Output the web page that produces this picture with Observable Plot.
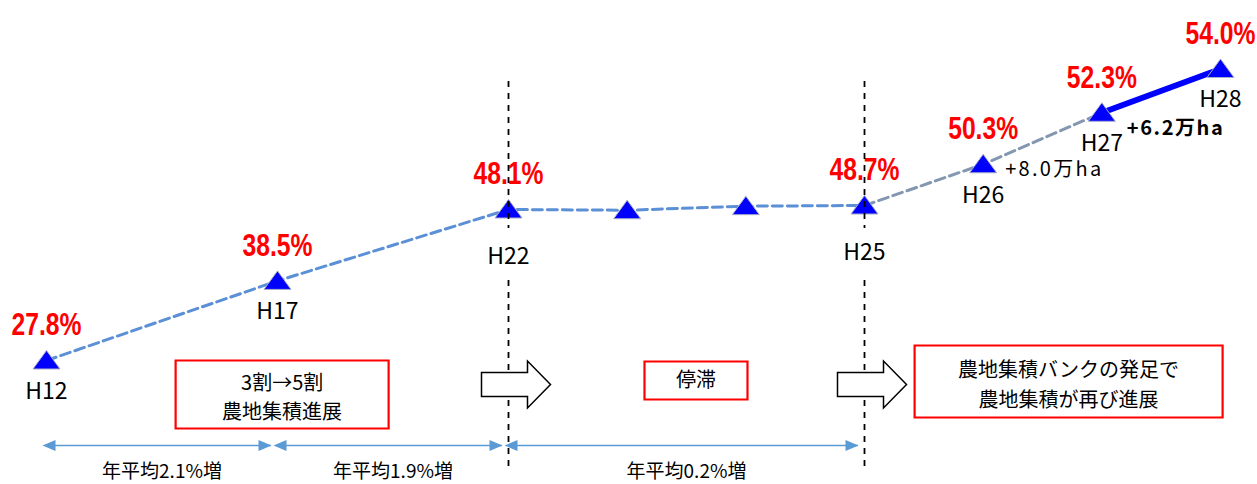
<!DOCTYPE html>
<html>
<head>
<meta charset="utf-8">
<script src="https://cdn.jsdelivr.net/npm/d3@7"></script>
<script src="https://cdn.jsdelivr.net/npm/@observablehq/plot@0.6"></script>
<style>
  html, body { margin: 0; padding: 0; background: #ffffff; }
  #chart svg { display: block; }
</style>
</head>
<body>
<div id="chart"></div>
<script>
// ---- data ----
const years      = [12, 17, 22, 23, 24, 25, 26, 27, 28];
const yearLabels = ["H12", "H17", "H22", "H23", "H24", "H25", "H26", "H27", "H28"];
const rates      = [27.8, 38.5, 48.1, 48.0, 48.6, 48.7, 50.3, 52.3, 54.0];
const labeledYears = [12, 17, 22, 25, 26, 27, 28];
const phaseYears   = [22, 25];
const increaseYears  = [26, 27];
const increaseLabels = ["+8.0万ha", "+6.2万ha"];
const periodStarts = [12, 17, 22];
const periodEnds   = [17, 22, 25];
const periodLabels = ["年平均2.1%増", "年平均1.9%増", "年平均0.2%増"];
const phaseTexts = ["3割→5割\n農地集積進展", "停滞", "農地集積バンクの発足で\n農地集積が再び進展"];
const phaseCenters = [17.1, 23.58, 26.72];
const segmentNames = ["dashed", "gray", "solid"];
const segmentFrom  = [12, 25, 27];
const segmentTo    = [25, 27, 28];

// ---- tables ----
const points = years.map((y, i) => ({year: y, label: yearLabels[i], rate: rates[i]}));
const labeled = points.filter(p => labeledYears.includes(p.year));
const segRows = segmentNames.flatMap((s, k) =>
  points.filter(p => p.year >= segmentFrom[k] && p.year <= segmentTo[k]).map(p => ({...p, seg: s})));
const increases = increaseYears.map((y, i) => ({...points.find(p => p.year === y), text: increaseLabels[i]}));
const periods = periodLabels.map((t, i) => ({x1: periodStarts[i], x2: periodEnds[i], mid: (periodStarts[i] + periodEnds[i]) / 2, text: t}));
const phases = phaseTexts.map((t, i) => ({x: phaseCenters[i], text: t}));

// ---- custom symbols ----
const flatTriangle = {draw(c) { c.moveTo(0, -10); c.lineTo(13.5, 8.5); c.lineTo(-13.5, 8.5); c.closePath(); }};
const blockArrow = {draw(c) {
  c.moveTo(-27, -12); c.lineTo(19, -12); c.lineTo(19, -23.5); c.lineTo(42, 0);
  c.lineTo(19, 23.5); c.lineTo(19, 12); c.lineTo(-27, 12); c.closePath();
}};
const headRight = {draw(c) { c.moveTo(0, 0); c.lineTo(-13, -5.5); c.lineTo(-13, 5.5); c.closePath(); }};
const headLeft  = {draw(c) { c.moveTo(0, 0); c.lineTo(13, -5.5); c.lineTo(13, 5.5); c.closePath(); }};
const boxSymbol = (w, h) => ({draw(c) { c.rect(-w / 2, -h / 2, w, h); }});

const JP = "'Noto Sans CJK JP', 'Noto Sans', sans-serif";
const LAT = "'Liberation Sans', Arial, sans-serif";

const chart = Plot.plot({
  width: 1257,
  height: 484,
  margin: 0,
  style: {background: "#ffffff", overflow: "visible"},
  x: {type: "linear", domain: [12, 22, 28], range: [46, 508, 1220], axis: null},
  y: {type: "linear", domain: [20, 48.1, 48.7, 56], range: [418, 209, 205, 17], axis: null},
  marks: [
    // series lines
    Plot.line(segRows.filter(d => d.seg === "dashed"), {x: "year", y: "rate", stroke: "#5b8fd6", strokeWidth: 3, strokeDasharray: "10,5"}),
    Plot.line(segRows.filter(d => d.seg === "gray"), {x: "year", y: "rate", stroke: "#8497b0", strokeWidth: 3, strokeDasharray: "10,5"}),
    Plot.line(segRows.filter(d => d.seg === "solid"), {x: "year", y: "rate", stroke: "#0000ff", strokeWidth: 6}),
    // markers
    Plot.dot(points, {x: "year", y: "rate", symbol: flatTriangle, fill: "#0000ff", stroke: "#a9adc8", strokeWidth: 1}),
    // percentage labels
    Plot.text(labeled, {x: "year", y: "rate", text: d => d.rate.toFixed(1) + "%", dy: -35, fill: "#ff0000", fontSize: 31, fontWeight: "bold", fontFamily: LAT, ariaDescription: "pct-labels"}),
    // phase separator lines (split around the year label)
    Plot.ruleX(phaseYears, {x: d => d, stroke: "#000", strokeWidth: 1.8, strokeDasharray: "6,6", insetTop: 81, insetBottom: 256}),
    Plot.ruleX(phaseYears, {x: d => d, stroke: "#000", strokeWidth: 1.8, strokeDasharray: "6,6", insetTop: 280, insetBottom: 14}),
    // year labels
    Plot.text(labeled.filter(d => !phaseYears.includes(d.year)), {x: "year", y: "rate", text: "label", dy: 31, fill: "#000", fontSize: 23, fontFamily: JP}),
    Plot.text(labeled.filter(d => phaseYears.includes(d.year)), {x: "year", y: "rate", text: "label", dy: 47, fill: "#000", fontSize: 23, fontFamily: JP}),
    // increase annotations
    Plot.text(increases.slice(0, 1), {x: "year", y: "rate", text: "text", textAnchor: "start", dx: 22, dy: 5, fill: "#000", fontSize: 20, fontFamily: JP, ariaDescription: "inc-labels"}),
    Plot.text(increases.slice(1), {x: "year", y: "rate", text: "text", textAnchor: "start", dx: 25, dy: 16, fill: "#000", fontSize: 20, fontWeight: "bold", fontFamily: JP, ariaDescription: "inc-labels"}),
    // block arrows
    Plot.dot(phaseYears, {x: d => d, frameAnchor: "top", dy: 384, symbol: blockArrow, fill: "#fff", stroke: "#000", strokeWidth: 1.5}),
    // phase boxes
    Plot.dot(phases.slice(0, 1), {x: "x", frameAnchor: "top", dy: 394, symbol: boxSymbol(213, 68), fill: "#fff", stroke: "#ff0000", strokeWidth: 2.2}),
    Plot.dot(phases.slice(1, 2), {x: "x", frameAnchor: "top", dy: 380, symbol: boxSymbol(103, 38), fill: "#fff", stroke: "#ff0000", strokeWidth: 2.2}),
    Plot.dot(phases.slice(2, 3), {x: "x", frameAnchor: "top", dy: 381, symbol: boxSymbol(308, 72), fill: "#fff", stroke: "#ff0000", strokeWidth: 2.2}),
    Plot.text(phases.slice(0, 1), {x: "x", frameAnchor: "top", lineAnchor: "middle", dy: 395, text: "text", lineHeight: 1.45, fontSize: 20, fill: "#000", fontFamily: JP}),
    Plot.text(phases.slice(1, 2), {x: "x", frameAnchor: "top", lineAnchor: "middle", dy: 380, text: "text", fontSize: 20, fill: "#000", fontFamily: JP}),
    Plot.text(phases.slice(2, 3), {x: "x", frameAnchor: "top", lineAnchor: "middle", dy: 382, text: "text", lineHeight: 1.5, fontSize: 20, fill: "#000", fontFamily: JP}),
    // period spans
    Plot.ruleY(periods, {x1: "x1", x2: "x2", y: null, dy: 445 - 242, insetLeft: 0, insetRight: 6, stroke: "#5b9bd5", strokeWidth: 1.5}),
    Plot.dot(periods, {x: "x1", frameAnchor: "top", dy: 445, dx: -4, symbol: headLeft, fill: "#5b9bd5", stroke: "none"}),
    Plot.dot(periods, {x: "x2", frameAnchor: "top", dy: 445, dx: -6, symbol: headRight, fill: "#5b9bd5", stroke: "none"}),
    Plot.text(periods, {x: "mid", frameAnchor: "top", lineAnchor: "middle", dy: 471, text: "text", fontSize: 19, fill: "#000", fontFamily: JP})
  ]
});
// condense the red percentage labels like the reference's narrow font
d3.select(chart).selectAll('g[aria-description="pct-labels"] text')
  .attr("textLength", 70).attr("lengthAdjust", "spacingAndGlyphs");
d3.select(chart).selectAll('g[aria-description="inc-labels"] text')
  .attr("textLength", 96).attr("lengthAdjust", "spacing");
document.getElementById("chart").appendChild(chart);
</script>
</body>
</html>
